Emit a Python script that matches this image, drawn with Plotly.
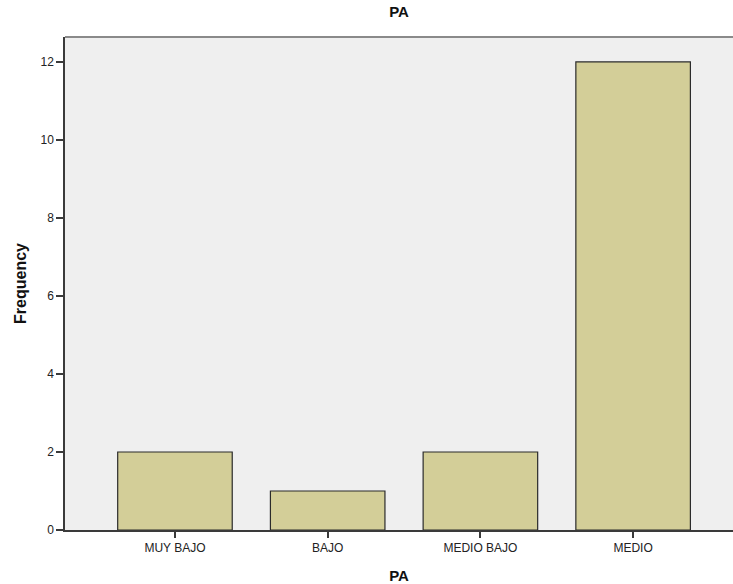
import plotly.graph_objects as go

categories = ["MUY BAJO", "BAJO", "MEDIO BAJO", "MEDIO"]
frequency = [2, 1, 2, 12]
y_ticks = [0, 2, 4, 6, 8, 10, 12]

fig = go.Figure()
fig.add_trace(go.Bar(
    x=list(range(len(categories))),
    y=frequency,
    width=0.75,
    marker=dict(color="#D3CE98", line=dict(color="#2b2b2b", width=1.2)),
))

fig.add_shape(type="line", xref="paper", yref="paper", x0=0, x1=1, y0=1, y1=1,
              line=dict(color="#8a8a8a", width=2))

fig.update_layout(
    width=733, height=584,
    margin=dict(l=65, r=0, t=37, b=54),
    paper_bgcolor="white",
    plot_bgcolor="#EFEFEF",
    font=dict(family="Liberation Sans, Arial, sans-serif", size=11, color="#222"),
    title=dict(text="<b>PA</b>", x=(65 + 733) / 2 / 733, xanchor="center",
               y=1 - 12 / 584, yanchor="middle", font=dict(size=15, color="#111")),
    showlegend=False,
    bargap=0.25,
)
fig.update_xaxes(
    range=[-0.72, 3.654],
    tickvals=list(range(len(categories))), ticktext=categories,
    showgrid=False, zeroline=False,
    showline=True, linecolor="#3a3a3a", linewidth=1.5,
    ticks="outside", ticklen=6, tickcolor="#3a3a3a", tickwidth=1.5,
    title=dict(text="<b>PA</b>", font=dict(size=15, color="#111"), standoff=18),
    tickfont=dict(size=12),
)
fig.update_yaxes(
    range=[0, 12.64],
    tickvals=y_ticks,
    showgrid=False, zeroline=False,
    showline=True, linecolor="#3a3a3a", linewidth=1.5,
    ticks="outside", ticklen=7, tickcolor="#3a3a3a", tickwidth=1.5,
    title=dict(text="<b>Frequency</b>", font=dict(size=16, color="#111"), standoff=10),
    tickfont=dict(size=12),
)

fig.write_html("out.html", config={"displayModeBar": False},
               post_script="document.body.style.margin='0';document.body.style.overflow='hidden';")
